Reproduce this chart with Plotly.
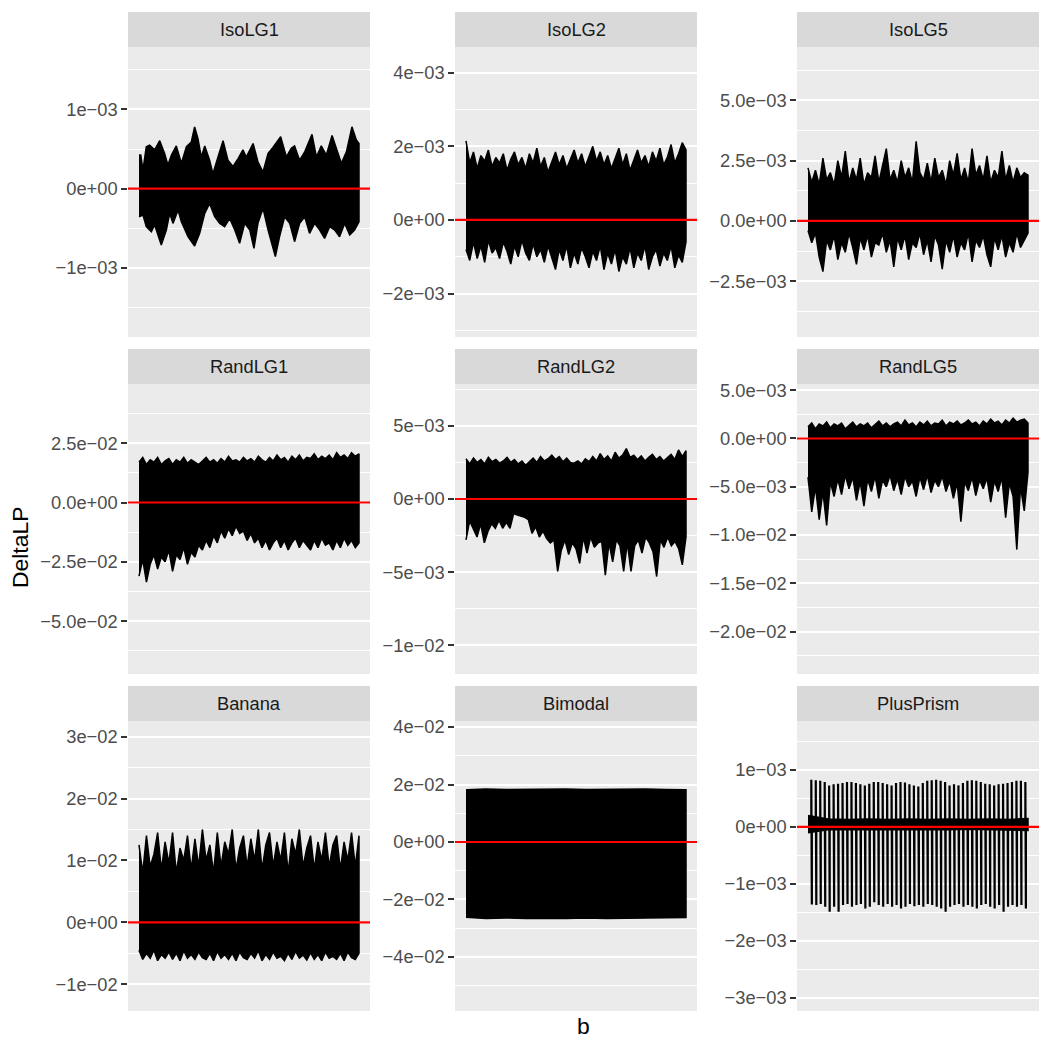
import numpy as np
import plotly.graph_objects as go

# ---------------- data ----------------
panels = ["IsoLG1", "IsoLG2", "IsoLG5", "RandLG1", "RandLG2", "RandLG5", "Banana", "Bimodal", "PlusPrism"]

# IsoLG1: upper / lower envelope of the oscillating series (units 1e-3)
isolg1_b_up = [0, 8, 18, 33, 48, 71, 94, 116, 131, 147, 169, 192, 215, 237, 252, 267, 282, 298, 320, 335,
               358, 381, 403, 426, 449, 471, 486, 517, 539, 562, 585, 607, 642, 668, 690, 705, 728, 751,
               784, 804, 826, 849, 875, 894, 917, 940, 965, 985, 997]
isolg1_up = [0.425, 0.425, 0.235, 0.53, 0.55, 0.49, 0.605, 0.445, 0.30, 0.425, 0.54, 0.32, 0.53, 0.59, 0.78,
             0.635, 0.40, 0.54, 0.36, 0.19, 0.40, 0.605, 0.36, 0.28, 0.38, 0.49, 0.40, 0.57, 0.34, 0.21,
             0.445, 0.52, 0.655, 0.40, 0.51, 0.54, 0.36, 0.465, 0.685, 0.40, 0.54, 0.425, 0.67, 0.51, 0.32,
             0.465, 0.78, 0.615, 0.57]
isolg1_b_low = [0, 18, 33, 56, 71, 101, 124, 139, 154, 177, 192, 222, 252, 275, 298, 320, 343, 366, 388, 411,
                434, 456, 479, 502, 521, 539, 562, 585, 618, 637, 660, 683, 705, 728, 751, 773, 796, 819,
                841, 864, 887, 909, 932, 955, 977, 997]
isolg1_low = [-0.353, -0.332, -0.479, -0.542, -0.458, -0.71, -0.521, -0.311, -0.437, -0.269, -0.416, -0.605,
              -0.723, -0.563, -0.311, -0.185, -0.353, -0.437, -0.479, -0.374, -0.521, -0.689, -0.437, -0.521,
              -0.752, -0.437, -0.248, -0.521, -0.857, -0.605, -0.353, -0.437, -0.668, -0.437, -0.353, -0.563,
              -0.437, -0.521, -0.626, -0.479, -0.521, -0.605, -0.437, -0.584, -0.521, -0.416]

# IsoLG2 (1e-3)
isolg2_up = [2.15, 1.55, 1.85, 1.4, 1.75, 1.6, 1.9, 1.45, 1.7, 1.55, 1.8, 1.35, 1.65, 1.85, 1.5, 1.7, 1.4, 1.8,
             1.55, 1.95, 1.45, 1.7, 1.3, 1.6, 1.85, 1.5, 1.75, 1.4, 1.65, 1.9, 1.55, 1.8, 1.45, 1.7, 2.0, 1.6,
             1.85, 1.5, 1.75, 1.4, 1.7, 1.95, 1.5, 1.8, 1.35, 1.65, 1.9, 1.55, 1.75, 1.45, 1.85, 1.6, 1.95,
             1.5, 1.7, 2.05, 1.55, 1.8, 2.1, 1.9]
isolg2_low = [-0.8, -1.1, -0.6, -1.05, -0.7, -1.15, -0.55, -0.9, -0.75, -1.05, -0.6, -0.85, -1.2, -0.7, -1.0,
              -0.55, -0.9, -1.1, -0.65, -1.0, -0.8, -1.15, -0.7, -1.05, -1.35, -0.8, -1.1, -0.7, -1.3, -0.9,
              -1.2, -0.75, -1.0, -1.3, -0.85, -1.1, -0.7, -1.35, -0.9, -1.2, -0.8, -1.4, -1.0, -1.2, -0.75,
              -1.3, -0.9, -1.1, -0.7, -1.35, -1.0, -0.8, -1.25, -0.9, -1.1, -0.7, -1.3, -0.95, -1.15, -0.6]

# IsoLG5 (1e-3)
isolg5_up = [2.2, 1.6, 2.1, 1.5, 2.6, 1.7, 2.0, 1.5, 2.5, 1.8, 2.9, 1.6, 2.2, 1.7, 2.6, 1.5, 2.0, 1.8, 2.7, 1.6,
             2.3, 3.0, 1.7, 2.1, 1.6, 2.5, 1.8, 2.2, 1.6, 3.3, 2.0, 1.7, 2.4, 1.6, 2.6, 1.8, 2.1, 1.5, 2.5, 1.9,
             2.8, 1.7, 2.2, 1.6, 3.0, 1.9, 2.3, 1.7, 2.7, 1.6, 2.1, 1.8, 2.9, 1.7, 2.3, 1.6, 2.2, 1.8, 2.0, 1.9]
isolg5_low = [-0.4, -0.9, -0.5, -1.5, -2.1, -0.8, -1.2, -0.6, -1.6, -0.9, -1.3, -0.5, -1.1, -1.8, -0.7, -1.2,
              -0.6, -1.5, -0.9, -1.0, -0.5, -1.3, -0.8, -1.9, -0.7, -1.2, -0.6, -1.6, -0.9, -1.1, -0.5, -1.4,
              -0.8, -1.7, -0.6, -1.0, -2.0, -0.8, -1.3, -0.6, -1.5, -0.9, -1.2, -0.5, -1.7, -0.8, -1.1, -0.6,
              -1.4, -1.9, -0.7, -1.2, -0.6, -1.5, -0.9, -1.3, -0.5, -1.1, -0.8, -0.5]

# RandLG1 (1e-2)
randlg1_up = [1.7, 1.9, 1.6, 1.8, 1.7, 1.9, 1.6, 1.75, 1.85, 1.6, 1.8, 1.7, 1.9, 1.65, 1.8, 1.7, 1.6, 1.75, 1.9,
              1.7, 1.8, 1.65, 1.85, 1.7, 1.95, 1.75, 1.8, 1.7, 1.9, 1.75, 1.85, 1.7, 1.95, 1.8, 1.7, 1.9, 1.75,
              2.0, 1.8, 1.9, 1.7, 1.95, 1.8, 2.0, 1.75, 1.9, 1.85, 2.05, 1.8, 1.95, 1.85, 2.0, 1.8, 2.1, 1.9,
              2.0, 1.85, 2.1, 1.95, 2.05]
randlg1_low = [-3.1, -2.4, -3.35, -2.6, -2.2, -2.8, -2.3, -2.5, -2.0, -2.9, -2.2, -2.4, -1.9, -2.6, -2.1, -2.3,
               -1.8, -2.0, -1.6, -1.9, -1.4, -1.7, -1.2, -1.5, -1.1, -1.4, -1.0, -1.3, -1.2, -1.6, -1.3, -1.7,
               -1.5, -1.9, -1.6, -2.0, -1.7, -1.5, -1.9, -1.6, -2.0, -1.7, -1.5, -1.9, -1.6, -1.8, -2.0, -1.6,
               -1.9, -1.5, -1.8, -1.7, -2.0, -1.6, -1.9, -1.5, -1.8, -1.6, -1.9, -1.7]

# RandLG2 (1e-3)
randlg2_up = [2.75, 2.4, 2.8, 2.5, 2.7, 2.4, 2.85, 2.55, 2.7, 2.45, 2.6, 2.85, 2.5, 2.7, 2.4, 2.6, 2.3, 2.55, 2.8,
              2.5, 2.9, 2.6, 2.75, 3.0, 2.7, 2.9, 2.55, 2.8, 2.5, 2.45, 2.6, 2.4, 2.75, 2.55, 2.9, 2.6, 3.1, 2.7,
              2.95, 2.6, 3.2, 2.8, 3.0, 3.45, 2.85, 3.0, 2.7, 2.95, 2.6, 2.85, 3.05, 2.7, 2.9, 2.6, 2.8, 3.05,
              2.7, 3.35, 2.9, 3.3]
randlg2_low = [-2.8, -1.5, -2.1, -2.6, -1.7, -3.0, -2.2, -1.7, -2.0, -1.45, -2.0, -1.6, -2.0, -1.0, -1.1, -1.2,
               -1.25, -1.4, -2.35, -1.9, -2.6, -2.2, -2.7, -3.0, -2.8, -4.95, -3.5, -2.8, -3.8, -3.0, -3.4, -4.4,
               -2.6, -3.7, -2.6, -3.3, -3.0, -2.9, -5.2, -3.0, -4.3, -2.8, -3.2, -4.95, -3.0, -4.95, -3.2, -2.8,
               -3.7, -2.6, -3.0, -3.6, -5.3, -2.8, -3.3, -2.6, -3.2, -2.9, -3.4, -4.5, -2.6]

# RandLG5 (1e-3)
randlg5_up = [1.2, 1.6, 1.0, 1.5, 1.3, 1.7, 1.1, 1.5, 1.3, 1.6, 1.0, 1.4, 1.7, 1.2, 1.5, 1.3, 1.6, 1.1, 1.5, 1.8,
              1.3, 1.6, 1.2, 1.5, 1.7, 1.3, 1.9, 1.4, 1.6, 1.2, 1.7, 1.4, 1.8, 1.3, 1.6, 1.5, 1.9, 1.3, 1.7, 1.5,
              1.8, 1.4, 1.6, 1.9, 1.5, 1.7, 1.3, 1.8, 1.5, 2.0, 1.6, 1.8, 1.4, 1.9, 1.6, 2.1, 1.7, 1.9, 2.0, 1.6]
randlg5_low = [-4.0, -7.6, -5.0, -8.4, -5.5, -9.0, -4.5, -6.0, -4.2, -5.8, -3.8, -5.2, -4.0, -6.4, -4.5, -7.0,
               -4.2, -5.5, -3.9, -6.2, -4.3, -5.0, -3.8, -5.4, -4.2, -5.8, -3.9, -5.0, -4.4, -6.0, -4.0, -5.3,
               -3.8, -5.6, -4.3, -5.0, -3.9, -5.5, -4.4, -6.2, -4.6, -8.6, -4.5, -5.4, -4.0, -5.9, -4.3, -5.2,
               -4.1, -6.6, -4.4, -5.5, -4.0, -8.2, -4.6, -6.0, -11.5, -5.0, -7.5, -3.5]

# Banana (1e-2)
banana_up = [1.25, 0.8, 1.4, 0.9, 1.1, 1.45, 0.85, 1.3, 0.95, 1.45, 0.8, 1.2, 1.0, 1.4, 0.85, 1.35, 0.9, 1.5, 1.0,
             1.25, 0.8, 1.45, 0.9, 1.3, 1.1, 1.5, 0.85, 1.2, 1.4, 0.9, 1.35, 1.0, 1.5, 0.85, 1.25, 1.45, 0.9, 1.3,
             1.0, 1.45, 0.8, 1.35, 1.1, 1.5, 0.9, 1.2, 1.4, 0.85, 1.3, 1.0, 1.45, 0.9, 1.25, 1.4, 0.85, 1.3, 1.0,
             1.45, 0.9, 1.4]
banana_low = [-0.45, -0.6, -0.5, -0.58, -0.45, -0.62, -0.52, -0.58, -0.48, -0.6, -0.5, -0.62, -0.46, -0.58,
              -0.52, -0.6, -0.48, -0.57, -0.6, -0.5, -0.62, -0.47, -0.58, -0.52, -0.6, -0.5, -0.62, -0.48, -0.57,
              -0.6, -0.5, -0.58, -0.46, -0.62, -0.52, -0.6, -0.48, -0.58, -0.55, -0.62, -0.5, -0.6, -0.47, -0.58,
              -0.53, -0.61, -0.49, -0.6, -0.52, -0.62, -0.48, -0.58, -0.55, -0.6, -0.5, -0.62, -0.48, -0.57,
              -0.6, -0.5]

# Bimodal (1e-2)
bimodal_up = [1.82, 1.84, 1.83, 1.84, 1.83, 1.84, 1.83, 1.84, 1.83, 1.84, 1.83, 1.82]
bimodal_low = [-2.62, -2.66, -2.64, -2.66, -2.65, -2.66, -2.64, -2.66, -2.65, -2.66, -2.64, -2.63]

# PlusPrism (1e-3): dense band near zero plus periodic spikes
plusprism_band_up = [0.20, 0.14, 0.13, 0.14, 0.13, 0.14, 0.13, 0.14, 0.13, 0.14, 0.13, 0.15]
plusprism_band_low = [-0.10, -0.05, -0.04, -0.05, -0.05, -0.04, -0.05, -0.05, -0.04, -0.05, -0.05, -0.06]
plusprism_spike_up = [0.83, 0.82, 0.81, 0.79, 0.73, 0.75, 0.76, 0.77, 0.79, 0.79, 0.77, 0.75, 0.73, 0.76, 0.79,
                      0.79, 0.77, 0.75, 0.73, 0.77, 0.79, 0.78, 0.75, 0.73, 0.71, 0.77, 0.81, 0.82, 0.83, 0.81,
                      0.79, 0.73, 0.75, 0.73, 0.77, 0.81, 0.82, 0.81, 0.79, 0.76, 0.75, 0.73, 0.75, 0.76, 0.77,
                      0.79, 0.81, 0.81, 0.79]
plusprism_spike_down = [-1.36, -1.37, -1.35, -1.40, -1.49, -1.40, -1.49, -1.37, -1.35, -1.40, -1.37, -1.35, -1.43,
                        -1.40, -1.32, -1.37, -1.40, -1.35, -1.40, -1.37, -1.43, -1.40, -1.35, -1.39, -1.37, -1.40,
                        -1.35, -1.37, -1.40, -1.43, -1.49, -1.40, -1.37, -1.35, -1.40, -1.37, -1.40, -1.43, -1.37,
                        -1.35, -1.40, -1.43, -1.37, -1.49, -1.40, -1.37, -1.40, -1.37, -1.43]

# unit multiplier per panel
units = [1e-3, 1e-3, 1e-3, 1e-2, 1e-3, 1e-3, 1e-2, 1e-2, 1e-3]

# y tick labels per panel
tick_vals = [
    [-1e-3, 0, 1e-3],
    [-2e-3, 0, 2e-3, 4e-3],
    [-2.5e-3, 0, 2.5e-3, 5e-3],
    [-5e-2, -2.5e-2, 0, 2.5e-2],
    [-1e-2, -5e-3, 0, 5e-3],
    [-2e-2, -1.5e-2, -1e-2, -5e-3, 0, 5e-3],
    [-1e-2, 0, 1e-2, 2e-2, 3e-2],
    [-4e-2, -2e-2, 0, 2e-2, 4e-2],
    [-3e-3, -2e-3, -1e-3, 0, 1e-3],
]
tick_text = [
    ["\u22121e\u221203", "0e+00", "1e\u221203"],
    ["\u22122e\u221203", "0e+00", "2e\u221203", "4e\u221203"],
    ["\u22122.5e\u221203", "0.0e+00", "2.5e\u221203", "5.0e\u221203"],
    ["\u22125.0e\u221202", "\u22122.5e\u221202", "0.0e+00", "2.5e\u221202"],
    ["\u22121e\u221202", "\u22125e\u221203", "0e+00", "5e\u221203"],
    ["\u22122.0e\u221202", "\u22121.5e\u221202", "\u22121.0e\u221202", "\u22125.0e\u221203", "0.0e+00", "5.0e\u221203"],
    ["\u22121e\u221202", "0e+00", "1e\u221202", "2e\u221202", "3e\u221202"],
    ["\u22124e\u221202", "\u22122e\u221202", "0e+00", "2e\u221202", "4e\u221202"],
    ["\u22123e\u221203", "\u22122e\u221203", "\u22121e\u221203", "0e+00", "1e\u221203"],
]

# ---------------- layout geometry (pixels in the 1050 x 1050 page) ----------------
W = H = 1050
col_px = [(128, 370), (455, 697), (797, 1039)]
row_px = [(47, 337), (384, 674), (721, 1011)]
strip_h = 35
y_ranges = [
    (-1.870e-3, 1.787e-3),
    (-3.18e-3, 4.70e-3),
    (-4.81e-3, 7.21e-3),
    (-7.22e-2, 4.99e-2),
    (-11.96e-3, 7.86e-3),
    (-24.38e-3, 5.64e-3),
    (-1.433e-2, 3.252e-2),
    (-5.88e-2, 4.21e-2),
    (-3.23e-3, 1.86e-3),
]
B_MAX = 997
x_range = (-0.05 * B_MAX, 1.05 * B_MAX)

FONT = "Liberation Sans, Arial, sans-serif"
fig = go.Figure()
layout = dict(
    template="none",
    width=W, height=H, margin=dict(l=0, r=0, t=0, b=0, pad=0, autoexpand=False), autosize=False,
    paper_bgcolor="white", plot_bgcolor="#EBEBEB", showlegend=False,
    font=dict(family=FONT, color="#4D4D4D"),
)
shapes = []
annotations = []


def band(b_up, up, b_low, low):
    xs = list(b_up) + list(b_low)[::-1]
    ys = list(up) + list(low)[::-1]
    return xs, ys


for i, name in enumerate(panels):
    r, c = divmod(i, 3)
    k = "" if i == 0 else str(i + 1)
    xa, ya = "x" + k, "y" + k
    u = units[i]
    x0p, x1p = col_px[c]
    y0p, y1p = row_px[r]

    if name == "IsoLG1":
        xs, ys = band(isolg1_b_up, isolg1_up, isolg1_b_low, isolg1_low)
        fig.add_trace(go.Scatter(x=xs, y=np.array(ys) * u, xaxis=xa, yaxis=ya, mode="lines",
                                 fill="toself", fillcolor="black", line=dict(color="black", width=1.5)))
    elif name == "PlusPrism":
        bb = np.linspace(0, B_MAX, len(plusprism_band_up))
        xs, ys = band(bb, plusprism_band_up, bb, plusprism_band_low)
        fig.add_trace(go.Scatter(x=xs, y=np.array(ys) * u, xaxis=xa, yaxis=ya, mode="lines",
                                 fill="toself", fillcolor="black", line=dict(color="black", width=1.5)))
        n = len(plusprism_spike_up)
        centers = np.linspace(15, 985, n)
        off = (centers[1] - centers[0]) * 0.12
        base = 0.04
        sx, sy = [], []
        for cc, hu, hd in zip(centers, plusprism_spike_up, plusprism_spike_down):
            sx += [cc, cc, cc + off, cc + off]
            sy += [base, hu, hd, base]
        fig.add_trace(go.Scatter(x=sx, y=np.array(sy) * u, xaxis=xa, yaxis=ya, mode="lines",
                                 line=dict(color="black", width=2.2)))
    else:
        up = globals()[name.lower() + "_up"]
        low = globals()[name.lower() + "_low"]
        bu = np.linspace(0, B_MAX, len(up))
        bl = np.linspace(0, B_MAX, len(low))
        xs, ys = band(bu, up, bl, low)
        fig.add_trace(go.Scatter(x=xs, y=np.array(ys) * u, xaxis=xa, yaxis=ya, mode="lines",
                                 fill="toself", fillcolor="black", line=dict(color="black", width=1.5)))

    # axes
    tv = tick_vals[i]
    step = tv[1] - tv[0]
    lo, hi = y_ranges[i]
    minor_vals = [v + step / 2 for v in [tv[0] - step] + tv if lo < v + step / 2 < hi]
    layout["xaxis" + k] = dict(
        domain=[x0p / W, x1p / W], anchor=ya, range=list(x_range), automargin=False,
        showgrid=False, zeroline=False, showticklabels=False, ticks="", showline=False,
    )
    layout["yaxis" + k] = dict(
        domain=[1 - y1p / H, 1 - y0p / H], anchor=xa, range=[lo, hi], automargin=False,
        tickmode="array", tickvals=tv, ticktext=tick_text[i],
        ticks="outside", ticklen=5.7, tickwidth=2.2, tickcolor="#333333",
        tickfont=dict(size=18.3, color="#4D4D4D", family=FONT),
        showgrid=True, gridcolor="white", gridwidth=2.2, zeroline=False, showline=False,
        minor=dict(tickmode="array", tickvals=minor_vals, showgrid=True, gridcolor="white",
                   gridwidth=1.1, ticks=""),
    )
    # strip
    shapes.append(dict(type="rect", xref="paper", yref="paper", x0=x0p / W, x1=x1p / W,
                       y0=1 - y0p / H, y1=1 - (y0p - strip_h) / H, fillcolor="#D9D9D9",
                       line=dict(width=0), layer="below"))
    annotations.append(dict(text=name, xref="paper", yref="paper", x=(x0p + x1p) / 2 / W,
                            y=1 - (y0p - strip_h / 2) / H, showarrow=False, xanchor="center",
                            yanchor="middle", font=dict(size=18.3, color="#1A1A1A", family=FONT)))
    # red zero line
    shapes.append(dict(type="line", xref=xa + " domain", yref=ya, x0=0, x1=1, y0=0, y1=0,
                       line=dict(color="red", width=2.2), layer="above"))

annotations.append(dict(text="b", xref="paper", yref="paper", x=583.5 / W, y=1 - 1026 / H,
                        showarrow=False, xanchor="center", yanchor="middle",
                        font=dict(size=22.9, color="black", family=FONT)))
annotations.append(dict(text="DeltaLP", xref="paper", yref="paper", x=20 / W, y=1 - 548 / H,
                        showarrow=False, xanchor="center", yanchor="middle", textangle=-90,
                        font=dict(size=22.9, color="black", family=FONT)))

layout["shapes"] = shapes
layout["annotations"] = annotations
fig.update_layout(**layout)
fig.write_html("out.html")
